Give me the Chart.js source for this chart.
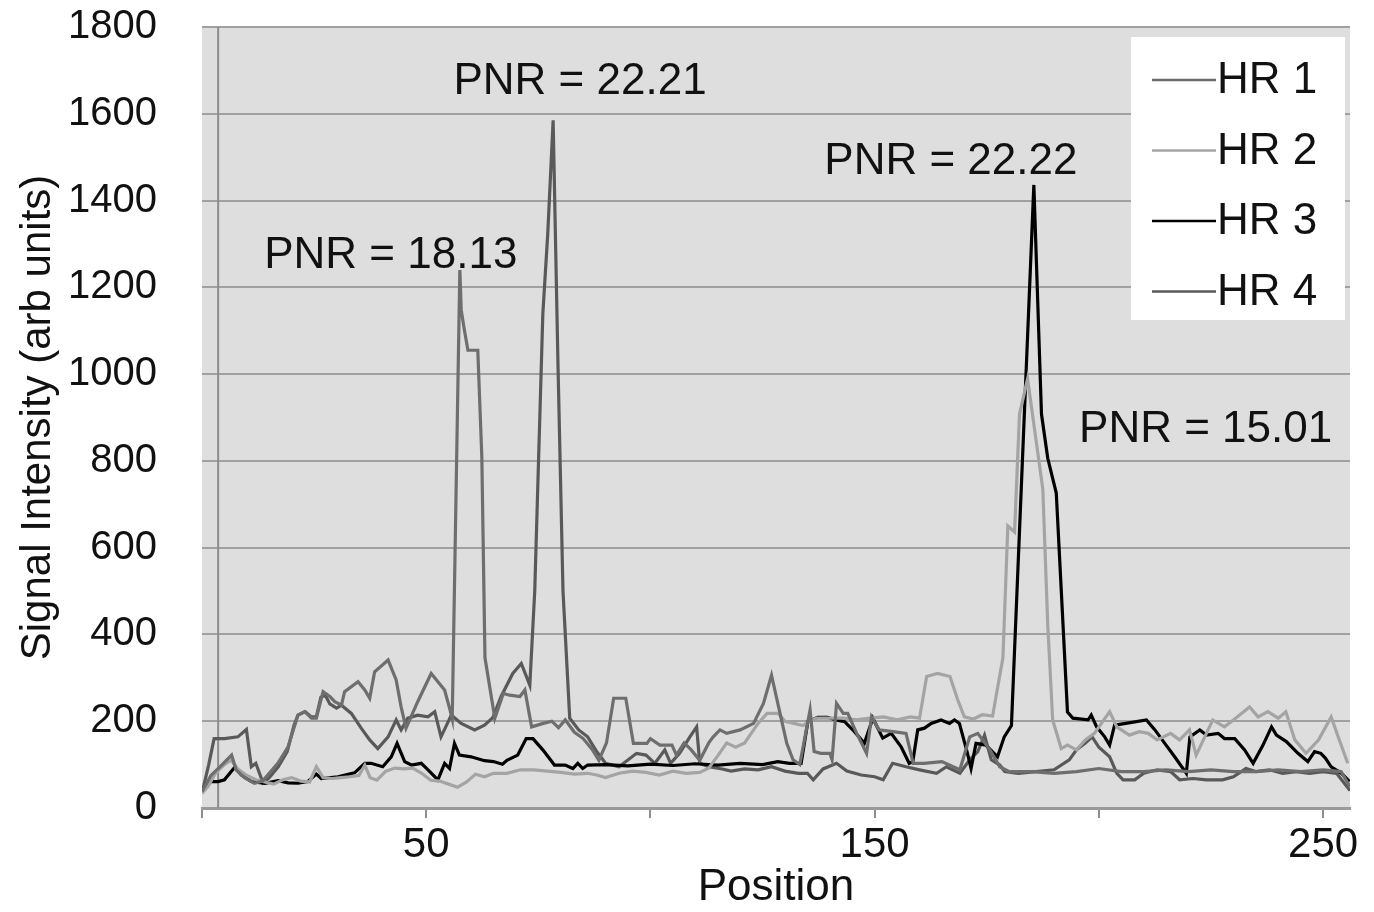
<!DOCTYPE html>
<html>
<head>
<meta charset="utf-8">
<title>Signal intensity by position</title>
<script src="https://cdn.jsdelivr.net/npm/chart.js@4/dist/chart.umd.min.js"></script>
<style>
  html, body { margin: 0; padding: 0; background: #fff; }
  #wrap { width: 1374px; height: 912px; }
</style>
</head>
<body>
<div id="wrap"><canvas id="chart"></canvas></div>
<script>
// ── Data ──

const seriesNames = ['HR 1', 'HR 2', 'HR 3', 'HR 4'];

const hr1Pos = [0,2,4.5,6.6,7.6,9.5,11.7,13.5,16.9,19.2,21.4,22.9,24.4,25.5,27,28.5,29.6,31.1,31.8,34.8,36.3,37.4,38.5,41.5,43.3,44.4,45.5,48.1,51.1,54.1,55.2,55.8,57.5,57.8,58.5,59.3,61.5,62.4,63.1,65.3,67.2,68.6,70.9,72,73.5,76.1,78,79.5,81,83,85,87,88.5,90.2,91.8,94.5,96.2,99.2,100,102.1,104.8,105.8,107.5,109,111,113,114,115.5,117,120,123,125.2,127,128.9,130.4,131.8,133.3,135.6,136.5,138,140,140.5,141.5,143,144,146,148.2,149.3,151,154.1,157,158.6,161,165,169,171.2,173,175.7,177.9,180,185,190,195,200,205,210,215,220,225,230,235,240,245,250,254,256];
const hr1Val = [38,75,100,122,88,70,57,62,103,141,214,222,207,207,268,257,245,237,268,291,272,253,314,341,295,233,184,245,310,272,230,205,1240,1148,1102,1055,1055,809,346,207,264,260,257,272,187,195,200,185,203,175,160,135,110,150,253,253,149,149,160,145,145,122,150,135,110,150,164,180,172,180,195,241,306,218,149,111,100,226,130,126,126,111,241,218,218,172,126,210,180,176,172,103,103,107,88,164,172,134,95,84,84,80,84,91,84,84,88,84,88,84,84,88,84,88,84,49];

const hr2Pos = [0,1.3,3,5,6.5,8,10,12,14,16,18,20,22,24,25.5,27,29,31,33,35,36.3,37.5,39,41,43,45,47,49,51,53,55,57,59,61,63,65,68,71,74,77,80,83,86,88,90,93,96,99,102,105,108,111,113,115,117,119,121,124,126,128.5,130,132,134,135.5,137,140,143,146,149,152,155,158,160,161.6,164,166.8,168.5,170,172,174,176.3,178.6,179.7,181.2,182.3,184.1,187.5,188.6,189.7,191.6,193,195,197,199,202.4,204,206.8,209,211,213,216,218,220.2,221.7,225.4,228,230,233.6,235.5,237.7,240,241.7,243.7,246.2,249,251.8,253.5,255.5];
const hr2Val = [34,49,80,100,110,90,75,65,60,55,65,70,62,60,95,70,68,70,72,75,99,70,64,85,92,90,92,80,64,62,55,48,60,78,72,80,80,88,88,85,82,78,80,76,70,80,85,82,76,85,80,82,92,120,150,140,150,195,218,218,200,195,190,200,207,207,207,203,207,210,203,210,207,303,310,303,250,210,205,215,212,346,650,636,908,989,735,422,203,137,145,134,157,172,222,187,168,176,172,157,172,157,180,122,203,187,203,233,210,222,207,222,157,126,157,210,160,103];

const hr3Pos = [0,2,3.6,5,7.3,8.8,11,14,17,19.2,21.4,23.6,25.5,26.6,30.3,34,36.3,37.7,40.3,42.2,43.5,45.2,46.7,48.9,50.4,52.6,54.1,55.2,56.3,57.4,60,63,65,67,68,70.4,72.3,73.8,76,78.6,81,82.7,83.8,84.9,86,90,95,100,105,110,115,120,125,128.4,131,133.6,135.1,137.3,139.5,141.4,143.3,145.5,147.7,149.6,151.8,153.7,155.9,157.7,158.5,159.6,161.1,162.6,164.8,166.7,167.8,168.9,170.7,171.5,172.6,174.8,177.4,178.9,180.5,185.5,187.2,188.6,190.5,193,194.2,197.6,198.3,199.5,201.3,202.4,203.5,206,210.6,212.5,214.7,216.9,219.5,220.3,222.5,224,226.6,228,230.3,232.5,234.4,236.6,238.5,239.6,241.8,244.4,246.6,248.1,249.5,250.5,251.8,254.1,255.9];
const hr3Val = [41,61,61,65,94,76,61,57,63,58,57,61,78,68,72,81,103,103,95,118,149,107,99,103,88,65,103,91,149,122,118,109,107,101,110,122,160,160,134,99,99,91,103,91,99,100,97,101,98,102,99,103,100,107,103,103,199,209,209,203,199,176,149,207,161,172,141,103,107,180,184,195,203,195,203,195,126,91,149,145,118,164,190,1436,908,806,726,221,207,203,214,187,164,145,191,195,203,180,149,118,80,164,180,168,172,160,160,134,103,145,187,168,153,126,107,130,126,115,95,80,61];

const hr4Pos = [0,1.5,2.7,5,8,9.9,11,12,13.6,15,17,19,20.5,21.4,23,24.4,25.5,26.5,27.5,28.5,30,31.1,33.3,35.5,37.4,39.2,41.5,43.3,44.4,45.9,48.1,50.4,51.9,53.3,55.6,57.8,60.8,63,64.9,66.7,69.3,71.2,73.1,74.2,76,77.1,78.3,79.4,80.5,82,84,86,88,90,93,96.9,99,101,103.2,104.5,106.5,108.8,110.3,111,113,116,118,121,124,127,130,133,135,136.3,138.5,141.5,143.8,147,150,151.9,154,157,160,163.8,166,169,171.2,173,174.5,176,177.9,179,182,186,190,193.4,195,197,198.5,200,202.4,204,205.4,208,210,213,216,218,221,224,227.6,230,232.8,235,238,241,244,247,250,253,256];
const hr4Val = [34,100,160,160,164,181,95,103,58,70,95,130,190,214,222,210,210,255,260,240,230,237,218,184,157,137,164,203,180,207,214,210,222,164,214,195,180,191,209,257,310,333,283,500,1138,1323,1585,1014,500,207,180,164,130,103,95,126,122,103,134,103,126,164,187,103,95,90,85,90,88,95,85,80,80,65,90,103,85,76,72,65,103,95,88,80,95,80,111,130,168,111,99,84,80,84,88,111,134,150,164,140,118,80,65,65,80,88,84,65,68,65,65,72,91,84,88,80,84,80,84,80,40];

const xTickValues = [0, 50, 100, 150, 200, 250];
const xTickLabels = ['', '50', '', '150', '', '250'];
const refLinePos = 3.6;

const annoText = ['PNR = 18.13', 'PNR = 22.21', 'PNR = 22.22', 'PNR = 15.01'];
const annoPos = [42.1, 84.3, 167, 223.8];
const annoVal = [1272, 1673, 1489, 871];

// ── Styling ──

const FONT = "'Liberation Sans', Arial, Helvetica, sans-serif";
const lineColors = ['#6e6e6e', '#a4a4a4', '#000000', '#595959'];

function toPoints(pos, val) {
  return pos.map((p, i) => ({ x: p, y: val[i] }));
}

const seriesData = [
  toPoints(hr1Pos, hr1Val),
  toPoints(hr2Pos, hr2Val),
  toPoints(hr3Pos, hr3Val),
  toPoints(hr4Pos, hr4Val),
];

// plot background, reference line, annotations, legend box
const decor = {
  id: 'decor',
  beforeDraw(chart) {
    const { ctx, chartArea: a } = chart;
    ctx.save();
    ctx.fillStyle = '#dedede';
    ctx.fillRect(a.left, a.top, a.right - a.left, a.bottom - a.top);
    ctx.restore();
  },
  beforeDatasetsDraw(chart) {
    const { ctx, chartArea: a, scales } = chart;
    const x = scales.x.getPixelForValue(refLinePos);
    ctx.save();
    ctx.strokeStyle = '#8c8c8c';
    ctx.lineWidth = 2;
    ctx.beginPath();
    ctx.moveTo(x, a.top);
    ctx.lineTo(x, a.bottom);
    ctx.stroke();
    ctx.restore();
  },
  afterDraw(chart) {
    const { ctx, scales } = chart;
    ctx.save();
    ctx.font = `44px ${FONT}`;
    ctx.fillStyle = '#111';
    ctx.textAlign = 'center';
    ctx.textBaseline = 'middle';
    annoText.forEach((t, i) => {
      ctx.fillText(t, scales.x.getPixelForValue(annoPos[i]), scales.y.getPixelForValue(annoVal[i]));
    });

    // legend
    const bx = 1131, by = 37, bw = 214, bh = 283;
    ctx.fillStyle = '#ffffff';
    ctx.fillRect(bx, by, bw, bh);
    ctx.textAlign = 'left';
    chart.data.datasets.forEach((ds, i) => {
      const cy = 80 + i * 70.5;
      ctx.strokeStyle = ds.borderColor;
      ctx.lineWidth = 2.5;
      ctx.beginPath();
      ctx.moveTo(1152, cy);
      ctx.lineTo(1216, cy);
      ctx.stroke();
      ctx.fillStyle = '#111';
      ctx.fillText(ds.label, 1217, cy + 1);
    });
    ctx.restore();
  }
};

new Chart(document.getElementById('chart'), {
  type: 'line',
  data: {
    datasets: seriesNames.map((name, i) => ({
      label: name,
      data: seriesData[i],
      borderColor: lineColors[i],
      borderWidth: 3.2,
      pointRadius: 0,
      tension: 0,
      fill: false,
    }))
  },
  options: {
    responsive: true,
    maintainAspectRatio: false,
    animation: false,
    layout: { padding: { top: 27, right: 24, bottom: 0, left: 0 } },
    plugins: {
      legend: { display: false },
      tooltip: { enabled: false },
    },
    scales: {
      x: {
        type: 'linear',
        min: 0,
        max: 256,
        afterBuildTicks: s => { s.ticks = xTickValues.map(v => ({ value: v })); },
        afterFit: s => { s.height = 104; s.paddingLeft = 0; s.paddingRight = 0; },
        grid: { drawOnChartArea: false, drawTicks: true, tickLength: 10, color: '#8f8f8f', lineWidth: 2 },
        border: { display: true, color: '#9a9a9a', width: 3 },
        ticks: {
          autoSkip: false,
          maxRotation: 0,
          padding: 2,
          color: '#111',
          font: { family: FONT, size: 42 },
          callback: (v) => xTickLabels[xTickValues.indexOf(v)] ?? '',
        },
        title: {
          display: true,
          text: 'Position',
          color: '#111',
          font: { family: FONT, size: 44, lineHeight: 1.1 },
          padding: { top: 0, bottom: 0 },
        },
      },
      y: {
        min: 0,
        max: 1800,
        afterFit: s => { s.width = 202; s.paddingTop = 0; s.paddingBottom = 0; },
        grid: { drawTicks: false, color: '#a0a0a0', lineWidth: 2 },
        border: { display: false },
        ticks: {
          stepSize: 200,
          padding: 45,
          color: '#111',
          font: { family: FONT, size: 40 },
          callback: (v) => String(v),
        },
        title: {
          display: true,
          text: 'Signal Intensity (arb units)',
          color: '#111',
          font: { family: FONT, size: 42 },
          padding: { top: 13, bottom: 0 },
        },
      },
    },
  },
  plugins: [decor],
});
</script>
</body>
</html>
